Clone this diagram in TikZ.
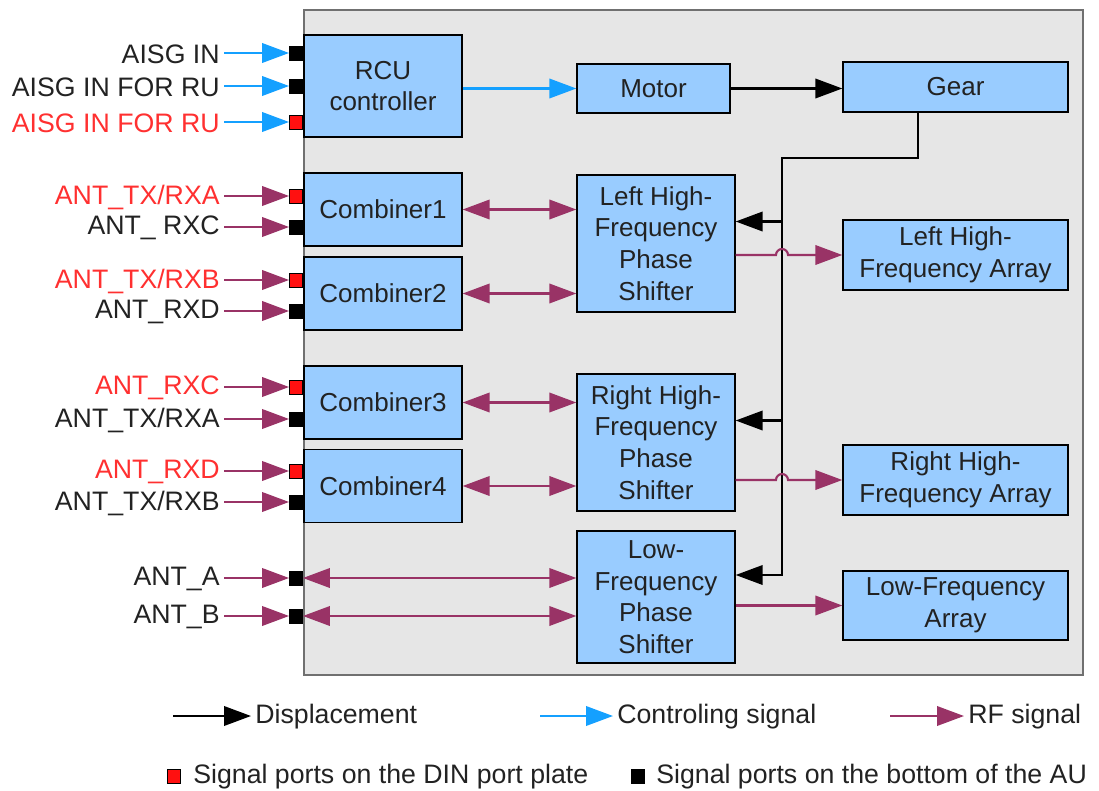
\documentclass[tikz,border=0pt]{standalone}
\usepackage{fontspec}
\setmainfont{Liberation Sans}
\usetikzlibrary{arrows.meta}

\definecolor{blockblue}{HTML}{99CCFF}
\definecolor{bggray}{HTML}{E6E6E6}
\definecolor{framegray}{HTML}{707070}
\definecolor{ctlblue}{RGB}{20,160,255}
\definecolor{rfmag}{HTML}{993366}
\definecolor{portred}{HTML}{FF1010}
\definecolor{lblred}{HTML}{FF3030}
\definecolor{txtgray}{HTML}{222222}

\begin{document}
\begin{tikzpicture}[x=0.02cm, y=-0.02cm, >={Triangle[length=5.4mm, width=3.9mm]},
  font=\fontsize{14.8}{18}\selectfont,
  block/.style={draw=black, line width=0.8pt, fill=blockblue, align=center, inner sep=0pt, text=txtgray},
  port/.style={draw=black, line width=0.5pt, minimum width=0.26cm, minimum height=0.28cm, inner sep=0pt},
  inlbl/.style={anchor=east, inner sep=0.08cm, font=\fontsize{15.2}{18}\selectfont},
  legtxt/.style={anchor=west, inner sep=0.08cm, text=txtgray, font=\fontsize{15.2}{18}\selectfont},
  disp/.style={->, line width=1.2pt, black},
  ctl/.style={->, line width=1.2pt, ctlblue},
  rf/.style={->, line width=1.2pt, rfmag},
  rfboth/.style={<->, line width=1.2pt, rfmag}]

  \useasboundingbox (0,0) rectangle (1099,791);

  % Antenna unit housing
  \draw[draw=framegray, fill=bggray, line width=1.3pt] (304,10) rectangle (1083,675);

  % Blocks
  \node[block, minimum width=3.16cm, minimum height=2.04cm] (rcu) at (383,86) {RCU\\controller};
  \node[block, minimum width=3.06cm, minimum height=0.98cm] (motor) at (653.5,88.5) {Motor};
  \node[block, minimum width=4.5cm, minimum height=1.0cm] (gear) at (955.5,87) {Gear};
  \node[block, minimum width=3.16cm, minimum height=1.46cm] (comb1) at (383,209.5) {Combiner1};
  \node[block, minimum width=3.16cm, minimum height=1.46cm] (comb2) at (383,293.5) {Combiner2};
  \node[block, minimum width=3.16cm, minimum height=1.46cm] (comb3) at (383,402.5) {Combiner3};
  \node[block, minimum width=3.16cm, minimum height=1.46cm] (comb4) at (383,486) {Combiner4};
  \node[block, minimum width=3.16cm, minimum height=2.74cm] (lps) at (656,243.5) {Left High-\\Frequency\\Phase\\Shifter};
  \node[block, minimum width=3.16cm, minimum height=2.74cm] (rps) at (656,442.5) {Right High-\\Frequency\\Phase\\Shifter};
  \node[block, minimum width=3.16cm, minimum height=2.64cm] (lowps) at (656,597) {Low-\\Frequency\\Phase\\Shifter};
  \node[block, minimum width=4.5cm, minimum height=1.4cm] (larr) at (955.5,255) {Left High-\\Frequency Array};
  \node[block, minimum width=4.5cm, minimum height=1.4cm] (rarr) at (955.5,480) {Right High-\\Frequency Array};
  \node[block, minimum width=4.5cm, minimum height=1.38cm] (lowarr) at (955.5,605.5) {Low-Frequency\\Array};

  % Input ports with their labels
  \foreach \i/\y/\pc/\tc/\sty/\txt in {
      1/53/black/txtgray/ctl/{AISG IN},
      2/86/black/txtgray/ctl/{AISG IN FOR RU},
      3/122/portred/lblred/ctl/{AISG IN FOR RU},
      4/196/portred/lblred/rf/{ANT\_TX/RXA},
      5/227/black/txtgray/rf/{ANT\_ RXC},
      6/280/portred/lblred/rf/{ANT\_TX/RXB},
      7/311/black/txtgray/rf/{ANT\_RXD},
      8/387/portred/lblred/rf/{ANT\_RXC},
      9/419/black/txtgray/rf/{ANT\_TX/RXA},
      10/471/portred/lblred/rf/{ANT\_RXD},
      11/502/black/txtgray/rf/{ANT\_TX/RXB},
      12/578/black/txtgray/rf/{ANT\_A},
      13/616/black/txtgray/rf/{ANT\_B}}{
    \node[port, fill=\pc] (p\i) at (296,\y) {};
    \node[inlbl, text=\tc] (l\i) at (224,\y+1) {\txt};
    \draw[\sty] (l\i.east |- p\i) -- (p\i.west);
  }

  % Control and displacement
  \draw[ctl] (rcu.east |- motor.west) -- (motor.west);
  \draw[disp] (motor.east) -- (motor.east -| gear.west);
  \coordinate (gtap) at ([xshift=-0.75cm]gear.south);
  \coordinate (bus) at (782,158);
  \coordinate (lpsin) at ([yshift=0.44cm]lps.east);
  \coordinate (rpsin) at ([yshift=0.44cm]rps.east);
  \coordinate (lowin) at ([yshift=0.44cm]lowps.east);
  \draw[disp] (gtap) |- (bus) -- (bus |- lowin) -- (lowin);
  \draw[disp] (bus |- lpsin) -- (lpsin);
  \draw[disp] (bus |- rpsin) -- (rpsin);

  % RF paths
  \draw[rfboth] (comb1.east) -- (comb1.east -| lps.west);
  \draw[rfboth] (comb2.east) -- (comb2.east -| lps.west);
  \draw[rfboth] (comb3.east) -- (comb3.east -| rps.west);
  \draw[rfboth] (comb4.east) -- (comb4.east -| rps.west);
  \draw[rfboth] (p12.east) -- (p12.east -| lowps.west);
  \draw[rfboth] (p13.east) -- (p13.east -| lowps.west);
  \draw[rf] (lps.east |- larr.west) -- ([xshift=-0.12cm]bus |- larr.west)
    arc[start angle=180, end angle=0, radius=0.12cm] -- (larr.west);
  \draw[rf] (rps.east |- rarr.west) -- ([xshift=-0.12cm]bus |- rarr.west)
    arc[start angle=180, end angle=0, radius=0.12cm] -- (rarr.west);
  \draw[rf] (lowps.east |- lowarr.west) -- (lowarr.west);

  % Legend
  \coordinate (k1) at (173,716);
  \node[legtxt] (t1) at (251,717) {Displacement};
  \draw[disp] (k1) -- (t1.west |- k1);
  \coordinate (k2) at (540,716);
  \node[legtxt] (t2) at (613,717) {Controling signal};
  \draw[ctl] (k2) -- (t2.west |- k2);
  \coordinate (k3) at (890,716);
  \node[legtxt] (t3) at (964,717) {RF signal};
  \draw[rf] (k3) -- (t3.west |- k3);
  \node[port, fill=portred] (kr) at (174,776) {};
  \node[legtxt] (tr) at (189,777) {Signal ports on the DIN port plate};
  \node[port, fill=black] (kb) at (638,776) {};
  \node[legtxt] (tb) at (652,777) {Signal ports on the bottom of the AU};

\end{tikzpicture}
\end{document}
